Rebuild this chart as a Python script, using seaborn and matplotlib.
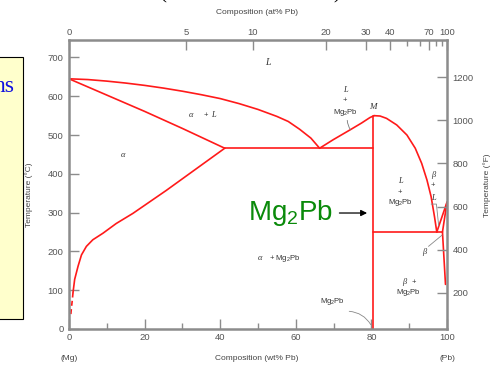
import numpy as np
import pandas as pd
import matplotlib
matplotlib.use("Agg")
import matplotlib.pyplot as plt
import seaborn as sns
from matplotlib.patches import Rectangle

sns.set_style("white")
plt.rcParams['font.family'] = ['Liberation Sans', 'DejaVu Sans']
plt.rcParams['mathtext.fontset'] = 'custom'
plt.rcParams['mathtext.rm'] = 'Liberation Sans'
plt.rcParams['mathtext.it'] = 'Liberation Sans:italic'

# ---------------- data (wt% Pb, deg C) ----------------
liq_mg_x = [0, 5, 10, 15, 20, 25, 30, 35, 40, 45, 50, 55, 58, 61, 64, 66.3]
liq_mg_t = [645, 643, 639, 634, 628, 621, 613, 604, 594, 581, 566, 548, 535, 515, 492, 466]

sol_mg_x = [0, 10, 20, 30, 41.2]
sol_mg_t = [645, 603, 561, 517, 466]

solvus_mg_x = [41.2, 25.7, 16.9, 12.5, 9.0, 6.3, 4.6, 3.3, 2.4, 1.5, 1.06]
solvus_mg_t = [466, 357, 298, 272, 247, 230, 213, 191, 162, 128, 94]
solvus_mg_dash_x = [1.06, 0.9, 0.65, 0.44]
solvus_mg_dash_t = [94, 77, 55, 34]

eut1_x = [41.2, 80.5]
eut1_t = [466, 466]

liq_c_left_x = [66.3, 69.9, 74.3, 77.4, 79.6, 80.7]
liq_c_left_t = [466, 488, 513, 531, 545, 550]

liq_c_right_x = [80.7, 82.3, 84.0, 86.7, 89.4, 91.6, 93.3, 94.7, 95.8, 96.7, 97.3]
liq_c_right_t = [550, 549, 543, 526, 500, 466, 427, 384, 341, 289, 250]

mg2pb_x = [80.5, 80.5]
mg2pb_t = [0, 550]

eut2_x = [80.5, 98.8]
eut2_t = [250, 250]

liq_pb_x = [97.3, 100]
liq_pb_t = [250, 327]
sol_pb_x = [98.8, 100]
sol_pb_t = [250, 327]
solvus_pb_x = [98.8, 99.6]
solvus_pb_t = [250, 115]

left_ticks = [0, 100, 200, 300, 400, 500, 600, 700]
right_ticks = [200, 400, 600, 800, 1000, 1200]
bottom_major = [0, 20, 40, 60, 80, 100]
bottom_minor = [10, 30, 50, 70, 90]
top_major = [0, 5, 10, 20, 30, 40, 70, 100]
top_minor = [50, 60, 80, 90]

M_PB, M_MG = 207.2, 24.305

def at_to_wt(a):
    a = np.asarray(a, dtype=float)
    return 100 * a * M_PB / (a * M_PB + (100 - a) * M_MG)

# ---------------- figure ----------------
W, H = 498, 368
fig = plt.figure(figsize=(W / 100, H / 100), dpi=100)
ax = fig.add_axes([69 / W, 1 - 329 / H, 378 / W, 289 / H])
ax.set_xlim(0, 100)
ax.set_ylim(0, 745)

red = '#ff1a1a'
lw = 1.2
curves = [(liq_mg_x, liq_mg_t), (sol_mg_x, sol_mg_t), (solvus_mg_x, solvus_mg_t),
          (eut1_x, eut1_t), (liq_c_left_x, liq_c_left_t), (liq_c_right_x, liq_c_right_t),
          (mg2pb_x, mg2pb_t), (eut2_x, eut2_t), (liq_pb_x, liq_pb_t),
          (sol_pb_x, sol_pb_t), (solvus_pb_x, solvus_pb_t)]
for cx, ct in curves:
    sns.lineplot(x=cx, y=ct, ax=ax, color=red, lw=lw, sort=False, estimator=None)
sns.lineplot(x=solvus_mg_dash_x, y=solvus_mg_dash_t, ax=ax, color=red, lw=lw,
             sort=False, estimator=None, linestyle=(0, (3, 2)))

# spines and ticks
gray = '#8c8c8c'
for s in ax.spines.values():
    s.set_color(gray)
    s.set_linewidth(1.8)
ax.set_xlabel('')
ax.set_ylabel('')
ax.set_xticks(bottom_major)
ax.set_xticks(bottom_minor, minor=True)
ax.set_yticks(left_ticks)
ax.tick_params(axis='both', which='both', direction='in', color=gray, width=1,
               labelsize=6.8, labelcolor='#555555', pad=4)
ax.tick_params(axis='both', which='major', length=7)
ax.tick_params(axis='x', which='minor', length=4.5)
ax.tick_params(axis='x', which='major', pad=3)

# top axis (at% Pb)
axt = ax.twiny()
axt.set_xlim(0, 100)
axt.set_xticks(at_to_wt(top_major))
axt.set_xticklabels([str(v) for v in top_major])
axt.set_xticks(at_to_wt(top_minor), minor=True)
axt.tick_params(axis='x', which='both', direction='in', color=gray, width=1,
                labelsize=6.8, labelcolor='#555555', pad=2)
axt.tick_params(axis='x', which='major', length=7)
axt.tick_params(axis='x', which='minor', length=4.5)
for s in axt.spines.values():
    s.set_visible(False)

# right axis (deg F)
axr = ax.twinx()
axr.set_ylim(0 * 9 / 5 + 32, 745 * 9 / 5 + 32)
axr.set_yticks(right_ticks)
axr.tick_params(axis='y', direction='in', color=gray, width=1, length=7,
                labelsize=6.8, labelcolor='#555555', pad=4)
for s in axr.spines.values():
    s.set_visible(False)

# region labels
lab = dict(color='#333333', fontsize=5.5, ha='center', va='center')
ital = dict(color='#333333', ha='center', va='center', family='Liberation Serif',
            style='italic')
ax.text(52.6, 688, 'L', fontsize=7, **ital)
ax.text(32.3, 551, 'α', fontsize=6, **ital)
ax.text(36.5, 551, '+ ', **lab)
ax.text(38.3, 551, 'L', fontsize=6, **ital)
ax.text(14.3, 448, 'α', fontsize=6, **ital)
ax.text(50.5, 183, 'α', fontsize=6, **ital)
ax.text(57.0, 183, '+ Mg$_2$Pb', **lab)
ax.text(73.0, 616, 'L', fontsize=6, **ital)
ax.text(73.0, 588, '+', **lab)
ax.text(73.0, 557, 'Mg$_2$Pb', **lab)
ax.annotate('', xy=(74.9, 508), xytext=(73.6, 545),
            arrowprops=dict(arrowstyle='-', color='#777777', lw=0.6,
                            connectionstyle='arc3,rad=0.2'))
ax.text(80.4, 571, 'M', fontsize=6.5, **ital)
ax.text(87.6, 381, 'L', fontsize=6, **ital)
ax.text(87.6, 353, '+', **lab)
ax.text(87.6, 325, 'Mg$_2$Pb', **lab)
ax.text(96.3, 397, 'β', fontsize=6, **ital)
ax.text(96.3, 369, '+', **lab)
ax.text(96.3, 338, 'L', fontsize=6, **ital)
ax.plot([95.8, 97.2, 97.8], [322, 322, 266], color='#888888', lw=0.6)
ax.text(93.9, 198, 'β', fontsize=6, **ital)
ax.plot([95.1, 98.7], [213, 242], color='#888888', lw=0.6)
ax.text(88.6, 121, 'β', fontsize=6, **ital)
ax.text(91.2, 121, '+', **lab)
ax.text(89.7, 93, 'Mg$_2$Pb', **lab)
ax.text(69.6, 72, 'Mg$_2$Pb', **lab)
ax.annotate('', xy=(80.2, 5), xytext=(73.4, 46),
            arrowprops=dict(arrowstyle='-', color='#888888', lw=0.6,
                            connectionstyle='arc3,rad=-0.3'))

# big green label with arrow
ax.text(58.5, 300, 'Mg$_2$Pb', color='#0a8a0a', fontsize=20, ha='center',
        va='center')
ax.annotate('', xy=(79.6, 299), xytext=(70.8, 299),
            arrowprops=dict(arrowstyle='-|>', color='black', lw=0.9,
                            mutation_scale=9))

# axis titles
tcol = '#444444'
fig.text(257 / W, 1 - 358 / H, 'Composition (wt% Pb)', fontsize=6, color=tcol,
         ha='center', va='center')
fig.text(69 / W, 1 - 358 / H, '(Mg)', fontsize=6, color=tcol, ha='center', va='center')
fig.text(447 / W, 1 - 358 / H, '(Pb)', fontsize=6, color=tcol, ha='center', va='center')
fig.text(257 / W, 1 - 12 / H, 'Composition (at% Pb)', fontsize=6, color=tcol,
         ha='center', va='center')
fig.text(29 / W, 1 - 195 / H, 'Temperature (°C)', fontsize=6, color=tcol,
         ha='center', va='center', rotation=90)
fig.text(487 / W, 1 - 185 / H, 'Temperature (°F)', fontsize=6, color=tcol,
         ha='center', va='center', rotation=90)

# yellow side box with clipped text
fig.patches.append(Rectangle((-5 / W, 1 - 319 / H), 28 / W, 262 / H,
                             transform=fig.transFigure, facecolor='#ffffcc',
                             edgecolor='black', lw=0.8))
fig.text(14 / W, 1 - 92 / H, 'ns', fontsize=17, color='#1010e0',
         family='Liberation Serif', ha='right', va='baseline')

# clipped title parentheses at the top
fig.text(163 / W, 1 + 2 / H, '(', fontsize=15, color='black',
         family='Liberation Serif', ha='center', va='baseline')
fig.text(337 / W, 1 + 2 / H, ')', fontsize=15, color='black',
         family='Liberation Serif', ha='center', va='baseline')

fig.savefig('out.png', dpi=100)
